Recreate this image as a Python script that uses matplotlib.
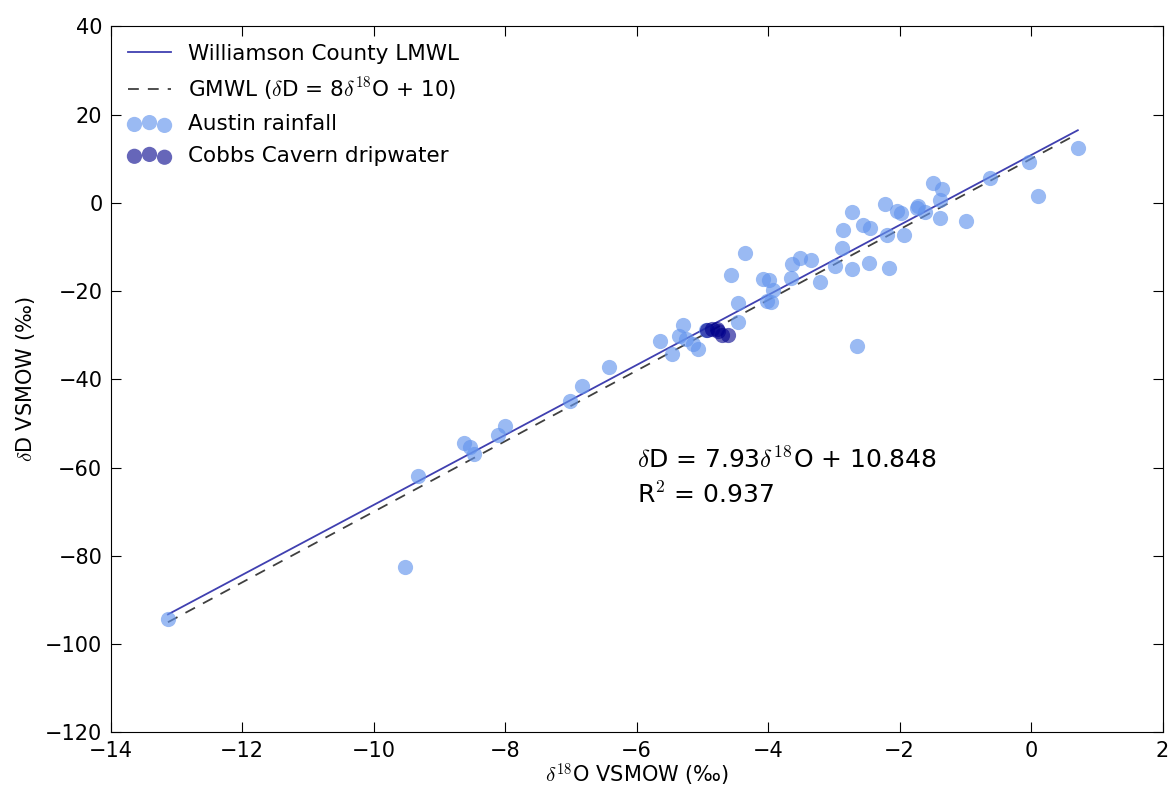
import numpy as np
import matplotlib
matplotlib.use('Agg')
from matplotlib import pyplot as plt

plt.rcParams['font.family'] = 'DejaVu Sans'
plt.rcParams['mathtext.fontset'] = 'cm'

# Austin rainfall isotopes (per mil VSMOW)
rain_d18o = [-13.13, -9.52, -9.32, -8.62, -8.54, -8.48, -8.11, -8.01, -7.02, -6.83,
             -6.42, -5.65, -5.47, -5.36, -5.30, -5.25, -5.15, -5.06, -4.95, -4.46,
             -4.46, -4.57, -4.35, -4.08, -3.99, -3.92, -4.02, -3.96, -3.65, -3.64,
             -3.51, -3.35, -3.21, -2.98, -2.87, -2.86, -2.73, -2.72, -2.65, -2.56,
             -2.45, -2.46, -2.16, -2.23, -2.20, -2.04, -1.98, -1.93, -1.72, -1.73,
             -1.62, -1.50, -1.36, -1.38, -1.39, -0.99, -0.62, -0.04, 0.10, 0.71]
rain_dD = [-94.4, -82.6, -61.9, -54.5, -55.4, -56.8, -52.7, -50.6, -44.9, -41.4,
           -37.2, -31.2, -34.2, -30.2, -27.7, -30.9, -31.9, -33.2, -28.7, -26.9,
           -22.6, -16.4, -11.4, -17.3, -17.5, -19.8, -22.3, -22.4, -17.0, -13.8,
           -12.4, -13.0, -17.9, -14.3, -10.2, -6.1, -2.1, -14.9, -32.5, -4.9,
           -5.6, -13.6, -14.8, -0.3, -7.2, -1.9, -2.2, -7.2, -0.7, -1.2,
           -2.1, 4.5, 3.1, 0.6, -3.4, -4.0, 5.6, 9.3, 1.5, 12.4]

# Cobbs Cavern dripwater
drip_d18o = [-4.93, -4.86, -4.78, -4.76, -4.70, -4.61]
drip_dD = [-28.7, -28.5, -28.5, -29.1, -30.0, -30.0]

# meteoric water lines
lmwl_slope, lmwl_int, lmwl_r2 = 7.93, 10.848, 0.937
gmwl_slope, gmwl_int = 8, 10

xline = np.array([min(rain_d18o), max(rain_d18o)])

fig = plt.figure(figsize=(11.72, 7.9), dpi=100)
ax = fig.add_axes([0.0945, 0.073, 0.8975, 0.8935])

ax.plot(xline, lmwl_slope * xline + lmwl_int, color='#2b2ba8', lw=1.3, alpha=0.9,
        label='Williamson County LMWL')
ax.plot(xline, gmwl_slope * xline + gmwl_int, color='k', lw=1.3, ls='--', alpha=0.75,
        dashes=(6, 5), label=r'GMWL ($\delta$D = 8$\delta^{18}$O + 10)')
ax.scatter(rain_d18o, rain_dD, s=120, color='cornflowerblue', alpha=0.65,
           linewidths=0, label='Austin rainfall', zorder=3)
ax.scatter(drip_d18o, drip_dD, s=120, color='#00008b', alpha=0.6,
           linewidths=0, label='Cobbs Cavern dripwater', zorder=4)

ax.text(-6.0, -60, r'$\delta$D = %.2f$\delta^{18}$O + %.3f' % (lmwl_slope, lmwl_int),
        fontsize=18)
ax.text(-6.0, -68, r'R$^2$ = %.3f' % lmwl_r2, fontsize=18)

ax.set_xlim(-14, 2)
ax.set_ylim(-120, 40)
ax.set_xticks(np.arange(-14, 3, 2))
ax.set_yticks(np.arange(-120, 41, 20))
ax.tick_params(direction='in', top=True, right=True, labelsize=15, length=7, pad=6)
ax.set_xlabel(r'$\delta^{18}$O VSMOW (‰)', fontsize=15, labelpad=1)
ax.set_ylabel(r'$\delta$D VSMOW (‰)', fontsize=15, labelpad=6)

ax.legend(loc='upper left', frameon=False, scatterpoints=3, fontsize=15.5,
          handlelength=2.0, labelspacing=0.55, borderaxespad=0.4)

plt.savefig('out.png', dpi=100)
